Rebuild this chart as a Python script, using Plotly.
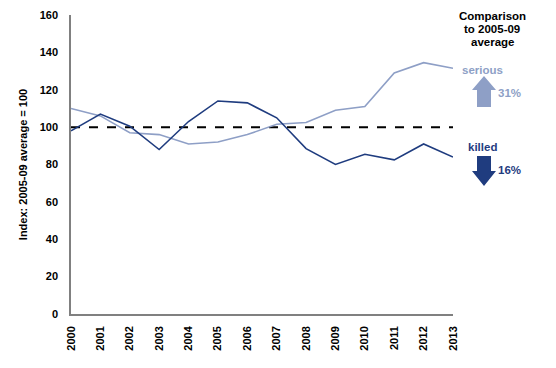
import plotly.graph_objects as go

years = list(range(2000, 2014))
year_labels = [str(y) for y in years]
killed = [98, 107, 100.5, 88, 103, 114, 113, 105, 88.5, 80, 85.5, 82.5, 91, 84]
serious = [110, 106, 97, 96, 91, 92, 96, 101.5, 102.5, 109, 111, 129, 134.5, 131.5]
baseline = [100] * len(years)
y_ticks = [0, 20, 40, 60, 80, 100, 120, 140, 160]

DARK = "#1F3C7F"
LIGHT = "#8E9FC6"
FONT = "Liberation Sans, Arial, sans-serif"

OFF = 8  # page body margin
W, H = 556 - OFF, 368 - OFF
# plot area in page coords: x 71..453, y 15..314
PL, PR, PT, PB = 71, 453, 15, 314
L, T = PL - OFF, PT - OFF
R = W - (PR - OFF)
B = H - (PB - OFF)
pw, ph = PR - PL, PB - PT

def px(x):
    return (x - PL) / pw

def py(y):
    return (PB - y) / ph

fig = go.Figure()
fig.add_trace(go.Scatter(x=years, y=baseline, mode="lines",
                         line=dict(color="black", width=2, dash="dash"),
                         hoverinfo="skip", showlegend=False))
fig.add_trace(go.Scatter(x=years, y=serious, mode="lines",
                         line=dict(color=LIGHT, width=1.6), showlegend=False))
fig.add_trace(go.Scatter(x=years, y=killed, mode="lines",
                         line=dict(color=DARK, width=1.6), showlegend=False))

fig.update_xaxes(range=[2000, 2013], tickvals=years, ticktext=year_labels,
                 tickangle=-90, showgrid=False, zeroline=False, automargin=False,
                 showline=True, linecolor="#808080", linewidth=1.5,
                 ticks="", ticklabelstandoff=6,
                 tickfont=dict(family=FONT, size=11, color="black", weight="bold"))
fig.update_yaxes(range=[0, 160], tickvals=y_ticks, showgrid=False, zeroline=False,
                 automargin=False,
                 showline=True, linecolor="#808080", linewidth=1.5,
                 ticks="", ticklabelstandoff=9,
                 tickfont=dict(family=FONT, size=11, color="black", weight="bold"),
                 title=dict(text="Index: 2005-09 average = 100", standoff=10,
                            font=dict(family=FONT, size=11, color="black", weight="bold")))

def arrow(xc, ytip, yhead, yend, hw, sw):
    return (f"M {px(xc - sw)} {py(yend)} L {px(xc - sw)} {py(yhead)} L {px(xc - hw)} {py(yhead)} "
            f"L {px(xc)} {py(ytip)} L {px(xc + hw)} {py(yhead)} L {px(xc + sw)} {py(yhead)} "
            f"L {px(xc + sw)} {py(yend)} Z")

fig.add_shape(type="path", xref="paper", yref="paper",
              path=arrow(484, 76, 90, 107, 12, 7),
              fillcolor=LIGHT, line=dict(width=0))
fig.add_shape(type="path", xref="paper", yref="paper",
              path=arrow(484, 186, 171, 156, 12, 7),
              fillcolor=DARK, line=dict(width=0))

FS = 11.5
anns = [
    dict(text="<b>Comparison</b>", x=492, y=16, color="black"),
    dict(text="<b>to 2005-09</b>", x=492, y=29, color="black"),
    dict(text="<b>average</b>", x=492, y=42, color="black"),
    dict(text="<b>serious</b>", x=482, y=70, color=LIGHT),
    dict(text="<b>31%</b>", x=509, y=93, color=LIGHT),
    dict(text="<b>killed</b>", x=483, y=147, color=DARK),
    dict(text="<b>16%</b>", x=509, y=170, color=DARK),
]
for a in anns:
    fig.add_annotation(text=a["text"], x=px(a["x"]), y=py(a["y"]), xref="paper", yref="paper",
                       showarrow=False, xanchor="center", yanchor="middle",
                       font=dict(family=FONT, size=FS, color=a["color"]))

fig.update_layout(width=W, height=H, margin=dict(l=L, r=R, t=T, b=B),
                  plot_bgcolor="white", paper_bgcolor="white",
                  font=dict(family=FONT))
fig.write_html("out.html")
